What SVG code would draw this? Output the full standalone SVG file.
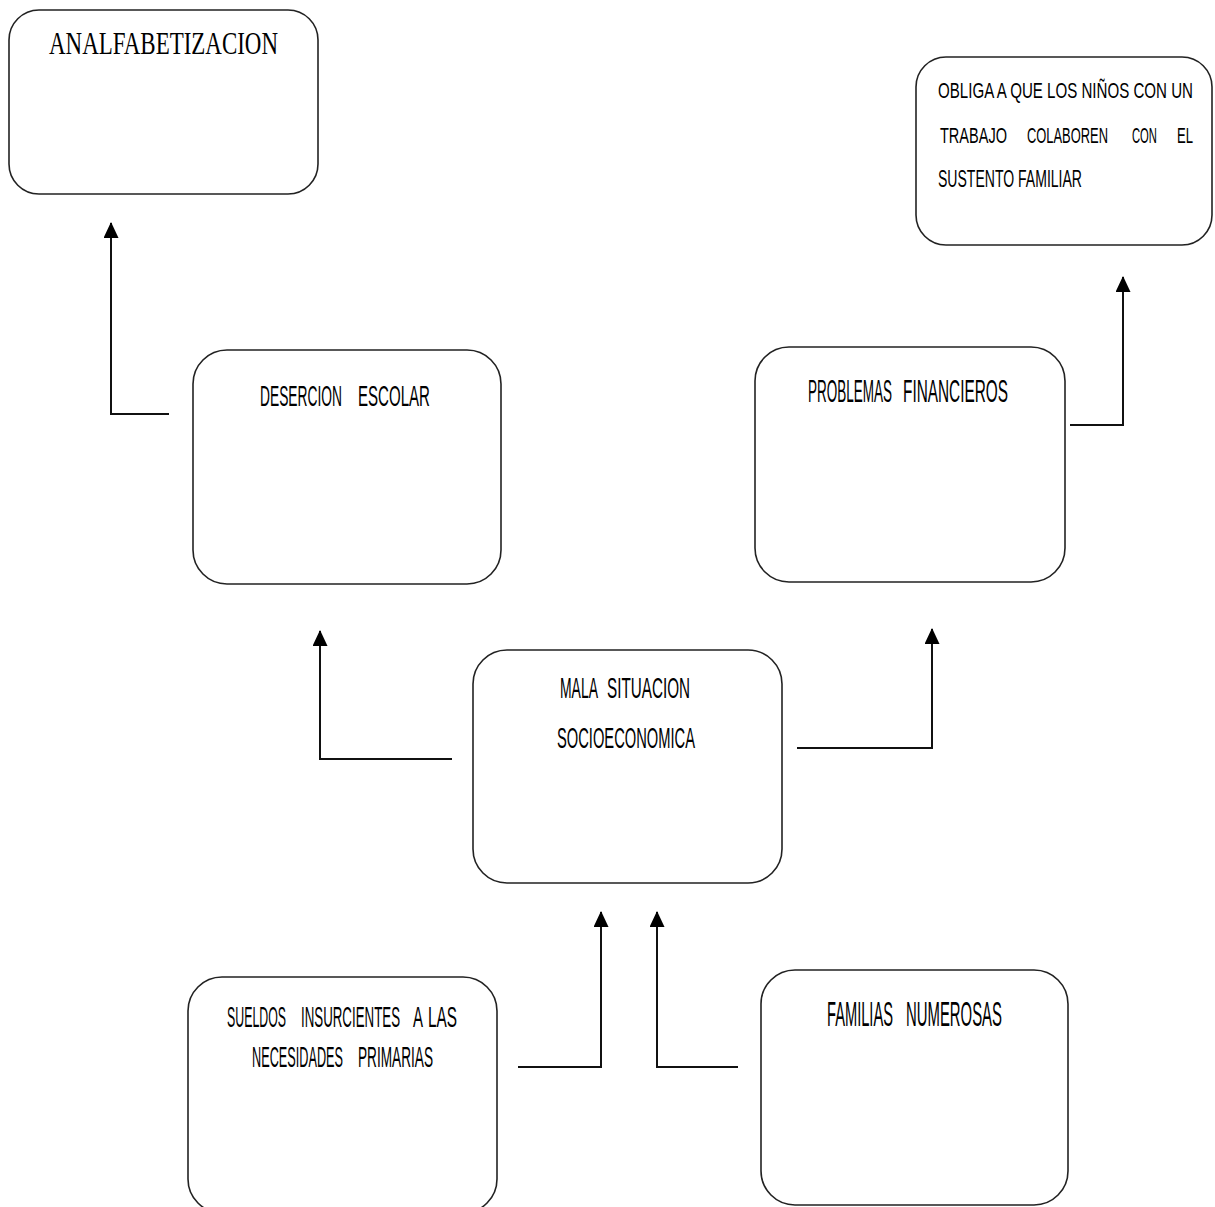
<svg xmlns="http://www.w3.org/2000/svg" width="1215" height="1207" viewBox="0 0 1215 1207">
<style>
.box{fill:#fff;stroke:#222;stroke-width:1.6}
.t{font-family:"Liberation Sans","DejaVu Sans",sans-serif;fill:#000}
.s{font-family:"Liberation Serif","DejaVu Serif",serif;fill:#000}
.c{fill:none;stroke:#111;stroke-width:2}
</style>
<defs>
<marker id="ah" markerUnits="userSpaceOnUse" markerWidth="16" markerHeight="15" viewBox="0 0 16 15" refX="15" refY="7.5" orient="auto">
<path d="M0,0 L16,7.5 L0,15 z" fill="#000"/>
</marker>
</defs>
<rect width="1215" height="1207" fill="#fff"/>

<g id="analfabetizacion">
<rect class="box" x="9" y="10" width="309" height="184" rx="30"/>
<text class="s" transform="translate(0,54) scale(1,1.4)" x="49" y="0" font-size="22.8" textLength="229" lengthAdjust="spacingAndGlyphs">ANALFABETIZACION</text>
</g>

<g id="obliga">
<rect class="box" x="916" y="57" width="296" height="188" rx="30"/>
<text class="t" transform="translate(0,98) scale(1,1.55)" font-size="14.6" y="0"><tspan x="938" textLength="255" lengthAdjust="spacingAndGlyphs">OBLIGA A QUE LOS NIÑOS CON UN</tspan></text>
<text class="t" transform="translate(0,143) scale(1,1.6)" font-size="13.4" y="0"><tspan x="940" textLength="67" lengthAdjust="spacingAndGlyphs">TRABAJO</tspan><tspan x="1027" textLength="81" lengthAdjust="spacingAndGlyphs">COLABOREN</tspan><tspan x="1132" textLength="25" lengthAdjust="spacingAndGlyphs">CON</tspan><tspan x="1177" textLength="16" lengthAdjust="spacingAndGlyphs">EL</tspan></text>
<text class="t" transform="translate(0,187) scale(1,1.75)" font-size="13.9" y="0"><tspan x="938" textLength="144" lengthAdjust="spacingAndGlyphs">SUSTENTO FAMILIAR</tspan></text>
</g>

<g id="desercion">
<rect class="box" x="193" y="350" width="308" height="234" rx="34"/>
<text class="t" transform="translate(0,406) scale(1,2.05)" font-size="14.4" y="0"><tspan x="260" textLength="82" lengthAdjust="spacingAndGlyphs">DESERCION</tspan><tspan x="358" textLength="72" lengthAdjust="spacingAndGlyphs">ESCOLAR</tspan></text>
</g>

<g id="problemas">
<rect class="box" x="755" y="347" width="310" height="235" rx="34"/>
<text class="t" transform="translate(0,402) scale(1,2.2)" font-size="14.4" y="0"><tspan x="808" textLength="84" lengthAdjust="spacingAndGlyphs">PROBLEMAS</tspan><tspan x="903" textLength="105" lengthAdjust="spacingAndGlyphs">FINANCIEROS</tspan></text>
</g>

<g id="mala">
<rect class="box" x="473" y="650" width="309" height="233" rx="34"/>
<text class="t" transform="translate(0,698) scale(1,2.0)" font-size="14.6" y="0"><tspan x="560" textLength="38" lengthAdjust="spacingAndGlyphs">MALA</tspan><tspan x="607" textLength="83" lengthAdjust="spacingAndGlyphs">SITUACION</tspan></text>
<text class="t" transform="translate(0,748) scale(1,2.0)" font-size="14.6" y="0"><tspan x="557" textLength="138" lengthAdjust="spacingAndGlyphs">SOCIOECONOMICA</tspan></text>
</g>

<g id="sueldos">
<rect class="box" x="188" y="977" width="309" height="236" rx="34"/>
<text class="t" transform="translate(0,1027) scale(1,2.3)" font-size="13" y="0"><tspan x="227" textLength="59" lengthAdjust="spacingAndGlyphs">SUELDOS</tspan><tspan x="301" textLength="99" lengthAdjust="spacingAndGlyphs">INSURCIENTES</tspan><tspan x="413" textLength="10" lengthAdjust="spacingAndGlyphs">A</tspan><tspan x="428" textLength="29" lengthAdjust="spacingAndGlyphs">LAS</tspan></text>
<text class="t" transform="translate(0,1067) scale(1,2.2)" font-size="13" y="0"><tspan x="252" textLength="91" lengthAdjust="spacingAndGlyphs">NECESIDADES</tspan><tspan x="358" textLength="75" lengthAdjust="spacingAndGlyphs">PRIMARIAS</tspan></text>
</g>

<g id="familias">
<rect class="box" x="761" y="970" width="307" height="235" rx="34"/>
<text class="t" transform="translate(0,1026) scale(1,2.35)" font-size="14.6" y="0"><tspan x="827" textLength="66" lengthAdjust="spacingAndGlyphs">FAMILIAS</tspan><tspan x="906" textLength="96" lengthAdjust="spacingAndGlyphs">NUMEROSAS</tspan></text>
</g>

<g id="connectors">
<polyline class="c" points="169,414 111,414 111,223" marker-end="url(#ah)"/>
<polyline class="c" points="1070,425 1123,425 1123,277" marker-end="url(#ah)"/>
<polyline class="c" points="452,759 320,759 320,631" marker-end="url(#ah)"/>
<polyline class="c" points="797,748 932,748 932,629" marker-end="url(#ah)"/>
<polyline class="c" points="518,1067 601,1067 601,912" marker-end="url(#ah)"/>
<polyline class="c" points="738,1067 657,1067 657,912" marker-end="url(#ah)"/>
</g>
</svg>
